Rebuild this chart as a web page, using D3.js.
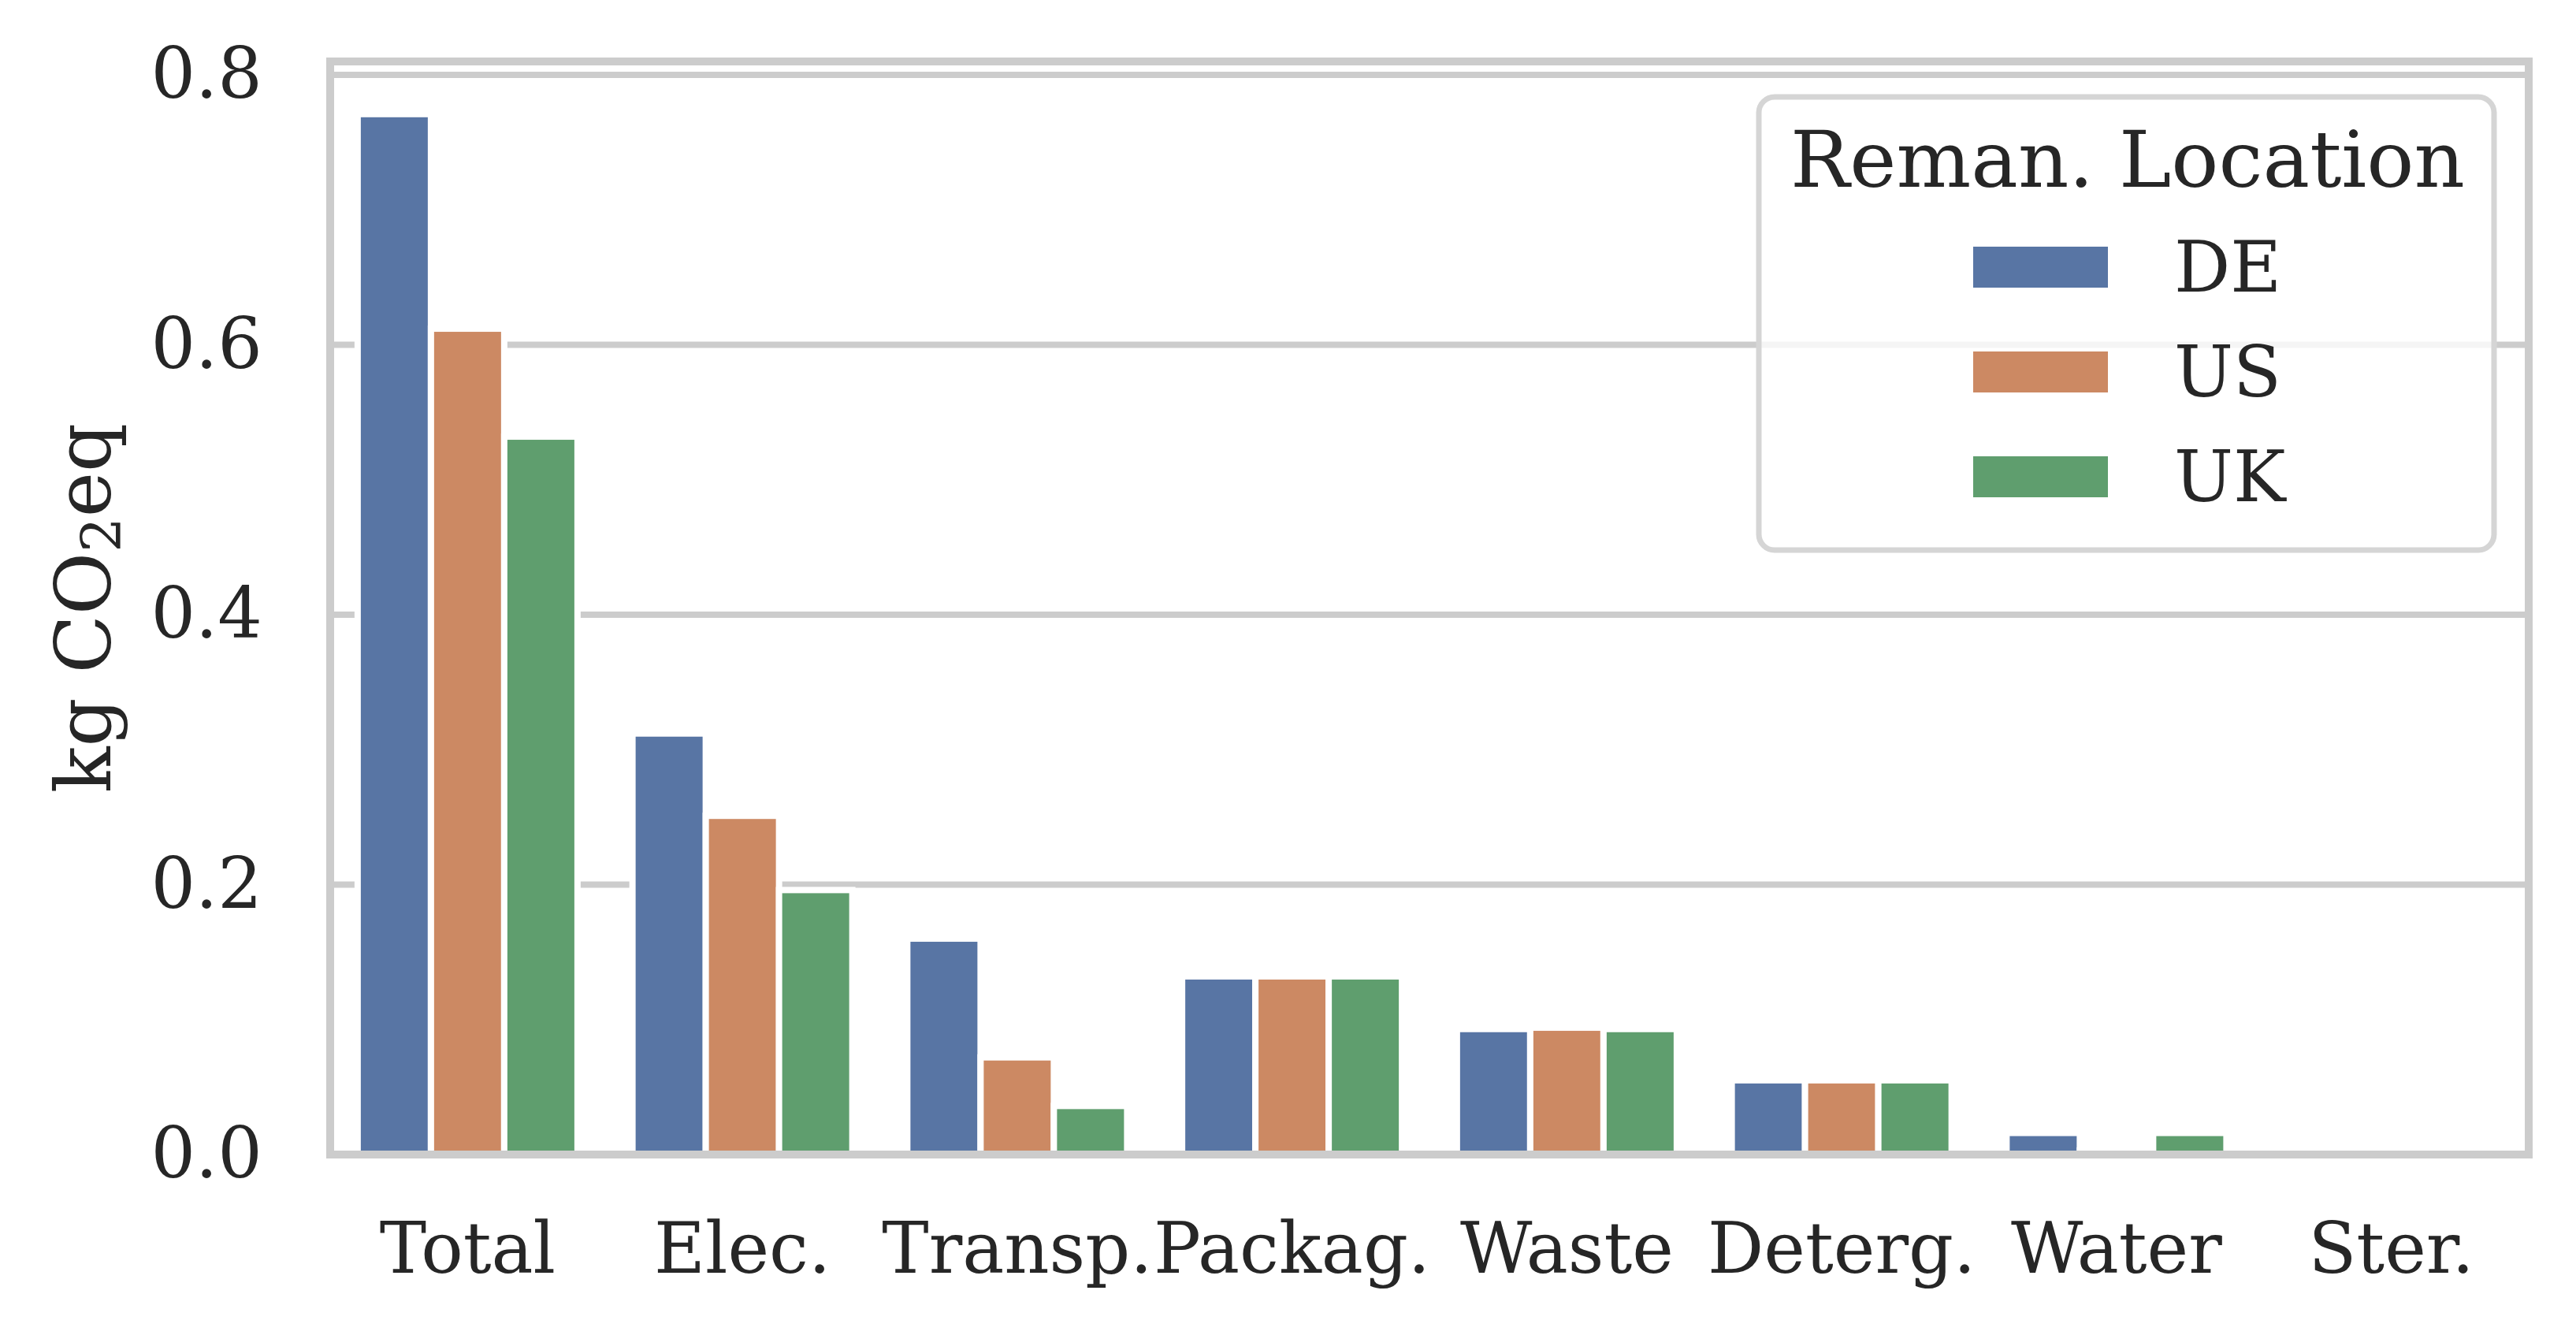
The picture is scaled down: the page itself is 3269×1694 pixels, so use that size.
<!DOCTYPE html>
<html>
<head>
<meta charset="utf-8">
<script src="https://cdn.jsdelivr.net/npm/d3@7"></script>
<style>
  body { margin: 0; background: #fff; }
  text { font-family: "DejaVu Serif", serif; fill: #262626; }
</style>
</head>
<body>
<div id="chart"></div>
<script>
// data
var categories = ["Total", "Elec.", "Transp.", "Packag.", "Waste", "Deterg.", "Water", "Ster."];
var locations = ["DE", "US", "UK"];
var deValues = [0.771, 0.312, 0.160, 0.132, 0.093, 0.055, 0.016, 0.0002];
var usValues = [0.612, 0.251, 0.072, 0.132, 0.094, 0.055, 0.003, 0.0002];
var ukValues = [0.532, 0.196, 0.036, 0.132, 0.093, 0.055, 0.016, 0.0002];
var yTicks = [0.0, 0.2, 0.4, 0.6, 0.8];
var colors = ["#5875a4", "#cc8963", "#5f9e6e"];

var seriesValues = [deValues, usValues, ukValues];

// chart dimensions (plot area edges in px)
var W = 3269, H = 1694;
var plotLeft = 419, plotRight = 3209, plotTop = 78, plotBottom = 1465;
var fontSize = 89;
var labelSize = 97;
var titleSize = 100;

var svg = d3.select("#chart").append("svg")
    .attr("width", W)
    .attr("height", H);

var xScale = d3.scaleBand().domain(categories).range([plotLeft, plotRight])
    .paddingInner(0.2).paddingOuter(0.1);
var subScale = d3.scaleBand().domain(locations).range([0, xScale.bandwidth()]);
var yScale = d3.scaleLinear().domain([0, 0.81]).range([plotBottom, plotTop]);
var colorScale = d3.scaleOrdinal().domain(locations).range(colors);

// grid
svg.append("g")
    .selectAll("line")
    .data(yTicks)
  .enter().append("line")
    .attr("x1", plotLeft).attr("x2", plotRight)
    .attr("y1", function(d) { return yScale(d); })
    .attr("y2", function(d) { return yScale(d); })
    .attr("stroke", "#cccccc")
    .attr("stroke-width", 8);

// bars
var rows = [];
categories.forEach(function(c, i) {
  locations.forEach(function(l, j) {
    rows.push({cat: c, loc: l, value: seriesValues[j][i]});
  });
});

svg.append("g")
    .selectAll("rect")
    .data(rows)
  .enter().append("rect")
    .attr("x", function(d) { return xScale(d.cat) + subScale(d.loc); })
    .attr("y", function(d) { return yScale(d.value); })
    .attr("width", subScale.bandwidth())
    .attr("height", function(d) { return yScale(0) - yScale(d.value); })
    .attr("fill", function(d) { return colorScale(d.loc); })
    .attr("stroke", "#fff")
    .attr("stroke-width", 8);

// spines
svg.append("rect")
    .attr("x", plotLeft).attr("y", plotTop)
    .attr("width", plotRight - plotLeft).attr("height", plotBottom - plotTop)
    .attr("fill", "none")
    .attr("stroke", "#cccccc")
    .attr("stroke-width", 10);

// axes
var xAxis = d3.axisBottom(xScale).tickSize(0).tickPadding(87);
var yAxis = d3.axisLeft(yScale).tickValues(yTicks).tickSize(0).tickPadding(86)
    .tickFormat(d3.format(".1f"));

var gx = svg.append("g")
    .attr("transform", "translate(0," + plotBottom + ")")
    .call(xAxis);
var gy = svg.append("g")
    .attr("transform", "translate(" + plotLeft + ",0)")
    .call(yAxis);

[gx, gy].forEach(function(g) {
  g.select(".domain").remove();
  g.selectAll("text")
    .attr("font-size", fontSize)
    .attr("font-family", "DejaVu Serif")
    .attr("fill", "#262626");
});

// y label
var yLabel = svg.append("text")
    .attr("transform", "translate(140," + ((plotTop + plotBottom) / 2) + ") rotate(-90)")
    .attr("text-anchor", "middle")
    .attr("font-size", labelSize);
yLabel.append("tspan").text("kg CO");
yLabel.append("tspan").text("2")
    .attr("font-size", labelSize * 0.72)
    .attr("dy", "0.18em");
yLabel.append("tspan").text("eq")
    .attr("dy", "-0.13em");

// legend
var legend = svg.append("g");
legend.append("rect")
    .attr("x", 2232).attr("y", 123)
    .attr("width", 933).attr("height", 575)
    .attr("rx", 20).attr("ry", 20)
    .attr("fill", "#fff").attr("fill-opacity", 0.8)
    .attr("stroke", "#d5d5d5")
    .attr("stroke-width", 7);

legend.append("text")
    .attr("x", 2700).attr("y", 237)
    .attr("text-anchor", "middle")
    .attr("font-size", titleSize)
    .text("Reman. Location");

var item = legend.selectAll(".item")
    .data(locations)
  .enter().append("g")
    .attr("class", "item")
    .attr("transform", function(d, i) { return "translate(0," + (339 + i * 133) + ")"; });

item.append("rect")
    .attr("x", 2502).attr("y", -28)
    .attr("width", 175).attr("height", 56)
    .attr("fill", function(d) { return colorScale(d); })
    .attr("stroke", "#fff")
    .attr("stroke-width", 4);

item.append("text")
    .attr("x", 2759)
    .attr("dy", "0.35em")
    .attr("font-size", fontSize)
    .text(function(d) { return d; });
</script>
</body>
</html>
